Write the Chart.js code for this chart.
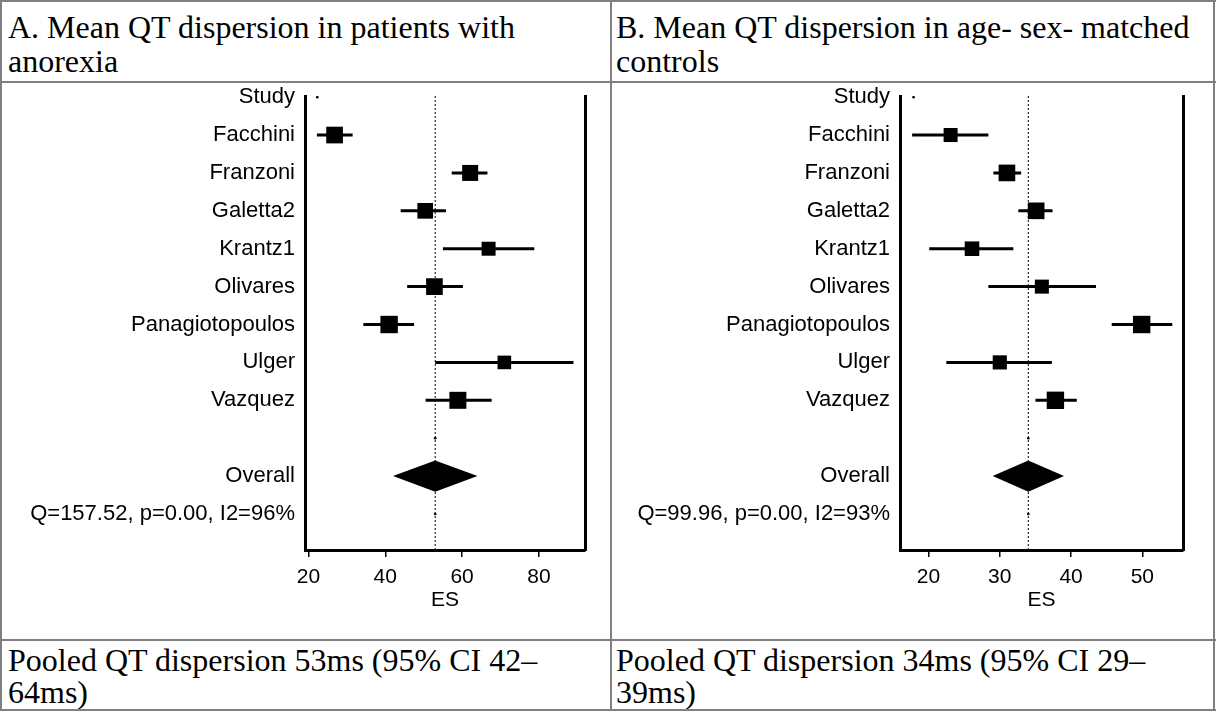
<!DOCTYPE html>
<html>
<head>
<meta charset="utf-8">
<title>QT dispersion forest plots</title>
<script src="https://cdn.jsdelivr.net/npm/chart.js@4.4.0/dist/chart.umd.min.js"></script>
<style>
  body { margin: 0; background: #fff; }
  #page { position: relative; width: 1216px; height: 712px; overflow: hidden; background: #fff; }
  .rule { position: absolute; background: #808080; }
  .txt {
    position: absolute;
    font-family: "Liberation Serif", "Times New Roman", serif;
    font-size: 32px;
    line-height: 34px;
    color: #000;
    white-space: nowrap;
  }
  canvas { position: absolute; }
</style>
</head>
<body>
<div id="page">
  <div class="txt" style="left:8px; top:10px;">A. Mean QT dispersion in patients with<br>anorexia</div>
  <div class="txt" style="left:616px; top:10px;">B. Mean QT dispersion in age- sex- matched<br>controls</div>

  <canvas id="chartA" width="607" height="556" style="left:2px; top:83px;"></canvas>
  <canvas id="chartB" width="601" height="556" style="left:612px; top:83px;"></canvas>

  <div class="txt" style="left:8px; top:644px; line-height:32px;">Pooled QT dispersion 53ms (95% CI 42–<br>64ms)</div>
  <div class="txt" style="left:616px; top:644px; line-height:32px;">Pooled QT dispersion 34ms (95% CI 29–<br>39ms)</div>

  <!-- table rules -->
  <div class="rule" style="left:0; top:0; width:1216px; height:2px;"></div>
  <div class="rule" style="left:0; top:709px; width:1216px; height:2px;"></div>
  <div class="rule" style="left:0; top:0; width:2px; height:711px;"></div>
  <div class="rule" style="left:1213px; top:0; width:2px; height:711px;"></div>
  <div class="rule" style="left:610px; top:0; width:2px; height:711px;"></div>
  <div class="rule" style="left:0; top:81px; width:1216px; height:2px;"></div>
  <div class="rule" style="left:0; top:639px; width:1216px; height:2px;"></div>
</div>

<script>
// studies, in plotting order
const studies = ['Facchini', 'Franzoni', 'Galetta2', 'Krantz1', 'Olivares', 'Panagiotopoulos', 'Ulger', 'Vazquez'];

// A: mean QT dispersion (ms) in patients with anorexia
const esA = [26.8, 62.1, 50.4, 66.9, 52.8, 41.0, 71.0, 58.9];
const loA = [22.2, 57.3, 44.0, 55.0, 45.7, 34.3, 53.0, 50.5];
const hiA = [31.5, 66.6, 55.8, 78.8, 60.2, 47.5, 89.0, 67.7];
const weightA = [13.7, 12.6, 12.1, 9.6, 13.7, 14.9, 9.1, 14.2];
const pooledA = { es: 53, lo: 42, hi: 64 };
const hetA = 'Q=157.52, p=0.00, I2=96%';
const ticksA = [20, 40, 60, 80];

// B: mean QT dispersion (ms) in age- sex- matched controls
const esB = [23.1, 31.0, 35.1, 26.1, 35.9, 49.9, 30.0, 37.8];
const loB = [17.7, 29.1, 32.6, 20.1, 28.4, 45.7, 22.5, 35.0];
const hiB = [28.4, 33.0, 37.4, 31.9, 43.5, 54.2, 37.3, 40.8];
const weightB = [10.0, 14.1, 14.1, 10.8, 10.0, 15.4, 10.2, 15.4];
const pooledB = { es: 34, lo: 29, hi: 39 };
const hetB = 'Q=99.96, p=0.00, I2=93%';
const ticksB = [20, 30, 40, 50];

// little stray marker stata leaves on the header row
const headDotA = 22.3;
const headDotB = 17.9;

const SANS = '"Liberation Sans", Arial, Helvetica, sans-serif';
const ROW_MIN = -0.03, ROW_MAX = 11.95;
const OVERALL_ROW = studies.length + 2;   // Study, 8 studies, blank, Overall, Q
const HET_ROW = OVERALL_ROW + 1;
const MAX_BOX = 17.4;                     // side in px of the heaviest study

// filled diamond for the pooled estimate
const diamondPlugin = {
  id: 'diamond',
  afterDatasetsDraw(chart, args, opts) {
    const { ctx, scales: { x, y } } = chart;
    const yc = y.getPixelForValue(opts.row);
    const h = y.getPixelForValue(opts.row + opts.half) - yc;
    ctx.save();
    ctx.beginPath();
    ctx.moveTo(x.getPixelForValue(opts.lo), yc);
    ctx.lineTo(x.getPixelForValue(opts.es), yc - h);
    ctx.lineTo(x.getPixelForValue(opts.hi), yc);
    ctx.lineTo(x.getPixelForValue(opts.es), yc + h);
    ctx.closePath();
    ctx.fillStyle = '#000';
    ctx.fill();
    ctx.restore();
  }
};

// keep the edge labels from pushing the plot area around
function noEdgePadding(s) {
  s.paddingTop = 0;
  s.paddingBottom = 0;
  s.paddingLeft = 0;
  s.paddingRight = 0;
}

function forest(id, es, lo, hi, weight, pooled, het, ticks, xMin, xMax, headDot, axisW, rightPad) {
  const rows = ['Study', ...studies, '', 'Overall', het];
  const wMax = Math.max(...weight);

  const boxes = es.map((v, i) => ({ x: v, y: i + 1 }));
  const radii = weight.map(w => MAX_BOX * Math.sqrt(w / wMax) / Math.SQRT2);

  const ci = [];
  lo.forEach((l, i) => {
    ci.push({ x: l, y: i + 1 }, { x: hi[i], y: i + 1 }, { x: null, y: null });
  });

  const ctx = document.getElementById(id).getContext('2d');
  return new Chart(ctx, {
    type: 'scatter',
    data: {
      datasets: [
        {
          data: boxes,
          pointStyle: 'rect',
          pointRadius: radii,
          backgroundColor: '#000',
          borderWidth: 0
        },
        {
          data: ci,
          showLine: true,
          spanGaps: false,
          borderColor: '#000',
          borderWidth: 3,
          pointRadius: 0
        },
        {
          data: [{ x: headDot, y: 0 }, { x: pooled.es, y: 9 }, { x: pooled.es, y: HET_ROW }],
          pointRadius: 1.3,
          backgroundColor: '#000',
          borderWidth: 0
        },
        {
          // dotted line at the pooled estimate
          data: [{ x: pooled.es, y: ROW_MIN }, { x: pooled.es, y: ROW_MAX }],
          showLine: true,
          borderColor: '#000',
          borderWidth: 1,
          borderDash: [2, 2],
          pointRadius: 0
        }
      ]
    },
    options: {
      responsive: false,
      animation: false,
      events: [],
      layout: { padding: { top: 13, right: rightPad, bottom: 0, left: 0 } },
      plugins: {
        legend: { display: false },
        tooltip: { enabled: false },
        diamond: { row: OVERALL_ROW, half: 0.41, es: pooled.es, lo: pooled.lo, hi: pooled.hi }
      },
      scales: {
        x: {
          type: 'linear',
          min: xMin,
          max: xMax,
          afterBuildTicks: s => { s.ticks = ticks.map(v => ({ value: v })); },
          afterFit: s => { s.height = 89; noEdgePadding(s); },
          border: { display: true, color: '#000', width: 3 },
          grid: { drawOnChartArea: false, drawTicks: true, tickLength: 7, color: '#000', lineWidth: 1.5 },
          ticks: { color: '#000', font: { family: SANS, size: 21 }, padding: 8, maxRotation: 0, autoSkip: false },
          title: { display: true, text: 'ES', color: '#000', font: { family: SANS, size: 21 }, padding: { top: 0, bottom: 26 } }
        },
        y: {
          type: 'linear',
          reverse: true,
          min: ROW_MIN,
          max: ROW_MAX,
          afterBuildTicks: s => { s.ticks = rows.map((_, i) => ({ value: i })); },
          afterFit: s => { s.width = axisW; noEdgePadding(s); },
          border: { display: true, color: '#000', width: 3 },
          grid: { display: false, drawTicks: false },
          ticks: { color: '#000', font: { family: SANS, size: 22 }, padding: 10, autoSkip: false, callback: v => rows[v] }
        },
        y2: {
          type: 'linear',
          position: 'right',
          reverse: true,
          min: ROW_MIN,
          max: ROW_MAX,
          afterFit: s => { s.width = 0; noEdgePadding(s); },
          border: { display: true, color: '#000', width: 3 },
          grid: { display: false, drawTicks: false },
          ticks: { display: false }
        }
      }
    },
    plugins: [diamondPlugin]
  });
}

forest('chartA', esA, loA, hiA, weightA, pooledA, hetA, ticksA, 19.1, 92.0, headDotA, 303, 24);
forest('chartB', esB, loB, hiB, weightB, pooledB, hetB, ticksB, 16.0, 55.7, headDotB, 288, 30);
</script>
</body>
</html>
